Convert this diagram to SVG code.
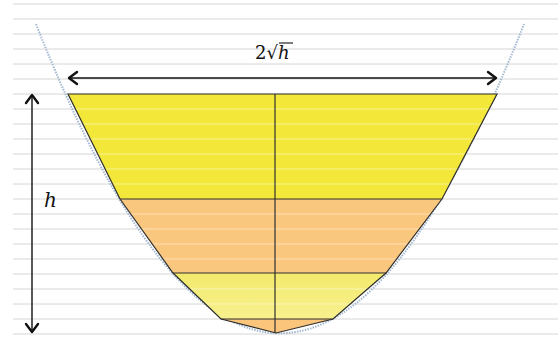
<svg xmlns="http://www.w3.org/2000/svg" width="560" height="338" viewBox="0 0 560 338">
<style>
.grid line{stroke:#d6d6d6;stroke-width:1}
.gridw line{stroke:#ffffff;stroke-opacity:0.45;stroke-width:1}
.edge{stroke:#2f2f2f;stroke-width:1.2;fill:none}
.arrow{stroke:#111;stroke-width:1.4;fill:none}
.head{stroke:#111;stroke-width:2.4;fill:none;stroke-linecap:round;stroke-linejoin:round}
.lbl{font-family:"DejaVu Serif","Liberation Serif",serif;fill:#111}
</style>
<defs>
<linearGradient id="g3" x1="0" y1="0" x2="0" y2="1">
<stop offset="0" stop-color="#f3ea6c"/>
<stop offset="1" stop-color="#f7f08e"/>
</linearGradient>
<clipPath id="cup">
<polygon points="68,94 497,94 442,199 386,273 333,319 276,333 221,319 173,273 120,199"/>
</clipPath>
</defs>
<rect width="560" height="338" fill="#ffffff"/>
<g class="grid">
<line x1="13" y1="4" x2="558" y2="4"/><line x1="13" y1="19" x2="558" y2="19"/><line x1="13" y1="34" x2="558" y2="34"/><line x1="13" y1="49" x2="558" y2="49"/><line x1="13" y1="64" x2="558" y2="64"/><line x1="13" y1="79" x2="558" y2="79"/><line x1="13" y1="94" x2="558" y2="94"/><line x1="13" y1="109" x2="558" y2="109"/><line x1="13" y1="124" x2="558" y2="124"/><line x1="13" y1="139" x2="558" y2="139"/><line x1="13" y1="154" x2="558" y2="154"/><line x1="13" y1="169" x2="558" y2="169"/><line x1="13" y1="184" x2="558" y2="184"/><line x1="13" y1="199" x2="558" y2="199"/><line x1="13" y1="214" x2="558" y2="214"/><line x1="13" y1="229" x2="558" y2="229"/><line x1="13" y1="244" x2="558" y2="244"/><line x1="13" y1="259" x2="558" y2="259"/><line x1="13" y1="274" x2="558" y2="274"/><line x1="13" y1="289" x2="558" y2="289"/><line x1="13" y1="304" x2="558" y2="304"/><line x1="13" y1="319" x2="558" y2="319"/><line x1="13" y1="334" x2="558" y2="334"/>
</g>
<path d="M36,24 Q280,642.6 524,24" fill="none" stroke="#a3b8d0" stroke-width="2" stroke-dasharray="1.5 1.2"/>
<g id="layer1"><polygon points="68,94 497,94 442,199 120,199" fill="#f3e83a"/></g>
<g id="layer2"><polygon points="120,199 442,199 386,273 173,273" fill="#fac77f"/></g>
<g id="layer3"><polygon points="173,273 386,273 333,319 221,319" fill="url(#g3)"/></g>
<g id="layer4"><polygon points="221,319 333,319 276,333" fill="#fbc57c"/></g>
<g class="gridw" clip-path="url(#cup)">
<line x1="13" y1="109" x2="558" y2="109"/><line x1="13" y1="124" x2="558" y2="124"/><line x1="13" y1="139" x2="558" y2="139"/><line x1="13" y1="154" x2="558" y2="154"/><line x1="13" y1="169" x2="558" y2="169"/><line x1="13" y1="184" x2="558" y2="184"/><line x1="13" y1="214" x2="558" y2="214"/><line x1="13" y1="229" x2="558" y2="229"/><line x1="13" y1="244" x2="558" y2="244"/><line x1="13" y1="259" x2="558" y2="259"/><line x1="13" y1="289" x2="558" y2="289"/><line x1="13" y1="304" x2="558" y2="304"/>
</g>
<g id="outline">
<polygon class="edge" points="68,94 497,94 442,199 386,273 333,319 276,333 221,319 173,273 120,199"/>
<line class="edge" x1="120" y1="199" x2="442" y2="199"/>
<line class="edge" x1="173" y1="273" x2="386" y2="273"/>
<line class="edge" x1="221" y1="319" x2="333" y2="319"/>
<line class="edge" x1="275" y1="94" x2="275" y2="333" stroke-width="1"/>
</g>
<g id="connectors">
<line class="arrow" x1="69" y1="78" x2="496" y2="78"/>
<polyline class="head" points="77,72 69,78 77,84"/>
<polyline class="head" points="488,72 496,78 488,84"/>
<line class="arrow" x1="32" y1="95" x2="32" y2="332"/>
<polyline class="head" points="26,103 32,95 38,103"/>
<polyline class="head" points="26,324 32,332 38,324"/>
</g>
<g id="labels">
<text class="lbl" x="255" y="59" font-size="18">2√<tspan font-style="italic">h</tspan></text>
<line x1="279" y1="43" x2="293" y2="43" stroke="#111" stroke-width="1.1"/>
<text class="lbl" x="44" y="207" font-size="20" font-style="italic">h</text>
</g>
</svg>
